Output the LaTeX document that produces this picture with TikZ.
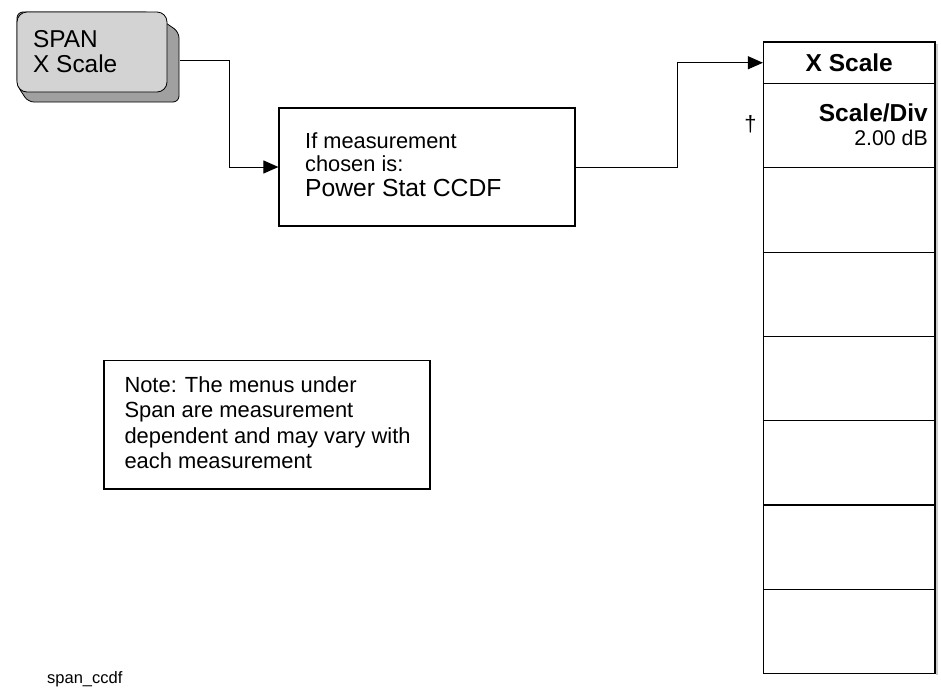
\documentclass[tikz,border=0pt]{standalone}
\usepackage{fontspec}
\setmainfont{Liberation Sans}
\usetikzlibrary{positioning, arrows.meta, calc}

\definecolor{keyface}{RGB}{211,211,211}
\definecolor{keyshade}{RGB}{160,160,160}

\tikzset{
  conn/.style={line width=1pt, -{Triangle[length=15pt,width=13pt]}},
  plainbox/.style={draw, line width=1.2pt, inner sep=0pt},
  menukey/.style={plainbox, minimum width=171.5pt, minimum height=84.3pt},
}

\begin{document}
\begin{tikzpicture}[x=1pt,y=-1pt]
  \useasboundingbox (0,0) rectangle (941,694);
  % ハードキー
  \fill[keyshade, draw=black, line width=0.8pt, rounded corners=6pt]
    (150,12) -- (179,32) -- (179,102) -- (28,102) -- (17,85) -- (17,12) -- cycle;
  \node[draw, fill=keyface, rounded corners=10pt, line width=0.8pt,
        minimum width=150pt, minimum height=80pt, inner sep=0pt] (keyspan) at (92,52) {};
  \node[anchor=base west, align=left, inner sep=0pt,
        font=\fontsize{24.4}{25}\selectfont] (keytext) at (33,72) {SPAN\\X Scale};
  % 測定の分岐
  \node[plainbox, minimum width=296pt, minimum height=118pt] (measbox) at (427,167) {};
  \node[anchor=base west, inner sep=0pt, font=\fontsize{21.8}{23}\selectfont] (measa) at (305,148) {If measurement};
  \node[anchor=base west, inner sep=0pt, font=\fontsize{21.8}{23}\selectfont] (measb) at (305,171) {chosen is:};
  \node[anchor=base west, inner sep=0pt, font=\fontsize{24.7}{25}\selectfont] (measc) at (305,196) {Power Stat CCDF};
  % メニュー
  \node[plainbox, minimum width=171.5pt, minimum height=41.5pt,
        font=\fontsize{24.5}{25}\selectfont\bfseries] (xscale) at (849.25,62.75) {X Scale};
  \foreach \i in {1,...,7}
    \node[menukey] (row\i) at (849.25, {83.5+84.3*(\i-0.5)}) {};
  \node[anchor=base east, inner sep=0pt, font=\fontsize{24.5}{25}\selectfont\bfseries] (scdiv) at (928,121.7) {Scale/Div};
  \node[anchor=base east, inner sep=0pt, font=\fontsize{21.3}{23}\selectfont] (scval) at (928,145) {2.00 dB};
  \node[anchor=base, inner sep=0pt, font=\fontsize{22}{23}\selectfont] (dagger) at (750.5,131) {†};
  \draw[black!20, line width=1.5pt] (937,44) -- (937,675);
  % 注記
  \node[plainbox, anchor=north west, minimum width=326pt, minimum height=128.3pt] (notebox) at (103.3,360) {};
  \node[anchor=base west, align=left, inner sep=0pt,
        font=\fontsize{21.9}{25.3}\selectfont] (notetext) at (124.3,468.3)
        {Note: The menus under\\Span are measurement\\dependent and may vary with\\each measurement};
  \node[anchor=base west, inner sep=0pt, font=\fontsize{16.5}{18}\selectfont] (figname) at (47,683) {span\_ccdf};
  % 接続線
  \draw[conn] ([xshift=13pt,yshift=-8pt]keyspan.east) -- ++(49,0) |- (measbox.west);
  \draw[conn] (measbox.east) -- ++(102,0) |- (xscale.west);
\end{tikzpicture}
\end{document}
